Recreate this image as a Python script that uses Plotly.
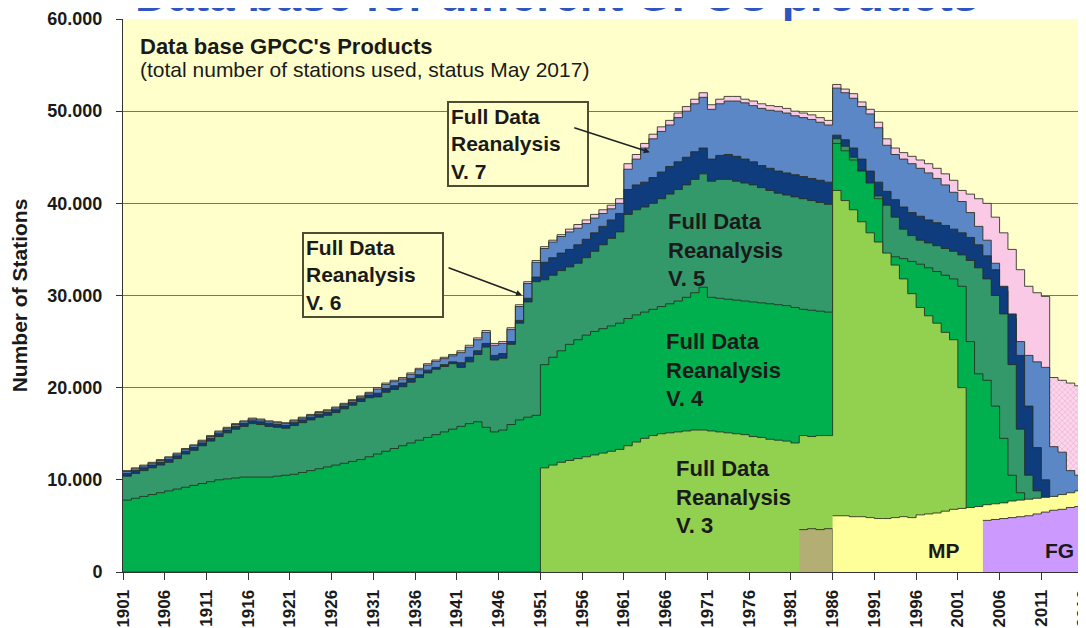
import plotly.graph_objects as go

# yearly station counts (top of each product layer)
YEARS = list(range(1901, 2018))

TOTAL_PINK = [
    11000, 11300, 11600, 11900, 12200, 12500, 12900, 13400, 13800, 14300,
    14800, 15300, 15700, 16100, 16400, 16700, 16600, 16400, 16300, 16200,
    16500, 16800, 17100, 17400, 17600, 17900, 18300, 18700, 19100, 19500,
    20000, 20500, 20800, 21100, 21600, 22100, 22600, 23000, 23300, 23600,
    24000, 24600, 25400, 26200, 24800, 25000, 26500, 29000, 31500, 33800,
    35300, 36000, 36600, 37200, 37700, 38200, 38800, 39300, 39800, 40500,
    44300, 45300, 46500, 47500, 48300, 49000, 49800, 50500, 51300, 52000,
    50700, 51300, 51600, 51600, 51300, 51100, 50800, 50600, 50500, 50300,
    50000, 49800, 49600, 49300, 49000, 52900, 52400, 51900, 51000, 50200,
    48800, 47000, 46000, 45500, 45100, 44700, 44300, 43800, 43200, 42500,
    41400, 41000, 40500, 40000, 38500, 36800, 35000, 32800, 31000, 30300,
    29900, 0, 0, 0, 0, 0, 0,
]

FD_V7 = [
    10900, 11200, 11500, 11800, 12100, 12400, 12800, 13300, 13700, 14200,
    14700, 15200, 15600, 16000, 16300, 16600, 16500, 16300, 16200, 16100,
    16400, 16700, 17000, 17300, 17500, 17800, 18200, 18600, 19000, 19400,
    19850, 20350, 20650, 20950, 21450, 21950, 22450, 22850, 23150, 23450,
    23800, 24400, 25200, 26000, 24600, 24800, 26300, 28800, 31300, 33600,
    35100, 35800, 36400, 36900, 37300, 37800, 38400, 38900, 39400, 40000,
    43700, 44800, 46000, 47000, 47800, 48500, 49300, 50000, 50800, 51500,
    50200, 50800, 51100, 51100, 50900, 50600, 50300, 50100, 50000, 49800,
    49500, 49300, 49100, 48800, 48500, 52500, 52000, 51400, 50500, 49700,
    48200, 46300, 45300, 44800, 44300, 43800, 43300, 42700, 42000, 41200,
    40200, 39000, 37500, 36000, 33500, 30500, 27500, 25000, 23500, 22800,
    22200, 13600, 13000, 11000, 10500, 0, 0,
]

FD_V6 = [
    10700, 11000, 11300, 11600, 11900, 12200, 12600, 13100, 13500, 14000,
    14500, 15000, 15400, 15800, 16100, 16400, 16300, 16100, 16000, 15900,
    16200, 16500, 16800, 17100, 17300, 17600, 18000, 18400, 18800, 19200,
    19400, 19900, 20200, 20500, 21000, 21400, 21900, 22200, 22500, 22800,
    22700, 23300, 24000, 24800, 23500, 23700, 25000, 27300, 29700, 32000,
    33600, 34100, 34600, 35000, 35500, 36100, 36800, 37500, 38200, 38900,
    41500, 42000, 42300, 42800, 43400, 44000, 44500, 45000, 45600, 46000,
    44800, 45200, 45300, 45100, 44800, 44500, 44100, 43800, 43500, 43300,
    43100, 42900, 42700, 42500, 42300, 47400, 46900, 46000, 44800, 43500,
    42300, 41300, 40400, 39600, 39000, 38600, 38200, 37900, 37600, 37200,
    36800, 36300, 35500, 34300, 32800, 31000, 28000, 23500, 18000, 13500,
    10000, 0, 0, 0, 0, 0, 0,
]

FD_V5 = [
    10400, 10700, 11000, 11300, 11600, 11900, 12300, 12800, 13200, 13700,
    14200, 14700, 15100, 15500, 15800, 16100, 16000, 15800, 15700, 15600,
    15900, 16200, 16500, 16800, 17000, 17300, 17700, 18100, 18500, 18900,
    19000, 19500, 19800, 20100, 20600, 21100, 21600, 22000, 22300, 22600,
    22200, 22800, 23600, 24400, 23000, 23200, 24700, 27000, 29300, 31500,
    31700, 32200, 32700, 33100, 33500, 34100, 34800, 35500, 36200, 36900,
    38800, 39300, 39600, 40000, 40500, 41000, 41500, 42000, 42600, 43200,
    42400, 42600, 42600, 42400, 42200, 42000, 41700, 41400, 41100, 40900,
    40700, 40500, 40300, 40100, 39900, 47000, 46200, 45000, 43500, 42000,
    40800, 39800, 38500, 37200, 36500, 36000, 35700, 35400, 35100, 34800,
    34400, 33800, 33000, 31800, 30000, 28000, 22500, 15500, 10500, 8800,
    0, 0, 0, 0, 0, 0, 0,
]

FD_V4 = [
    7800, 8000, 8200, 8400, 8600, 8800, 9000, 9200, 9400, 9600,
    9800, 10000, 10100, 10200, 10300, 10300, 10300, 10300, 10400, 10500,
    10600, 10800, 11000, 11200, 11400, 11600, 11800, 12000, 12200, 12500,
    12800, 13100, 13400, 13700, 14000, 14300, 14600, 14900, 15200, 15500,
    15800, 16100, 16300, 15700, 15200, 15400, 16000, 16500, 16800, 17000,
    22500, 23300, 24000, 24700, 25200, 25700, 26100, 26400, 26700, 27000,
    27500, 27900, 28200, 28500, 28800, 29100, 29400, 29800, 30300, 30900,
    29800, 29700, 29600, 29500, 29400, 29300, 29200, 29100, 29000, 28900,
    28700, 28500, 28400, 28300, 28200, 46500, 45700, 44700, 43500, 42200,
    40500, 34500, 34200, 34000, 33700, 33400, 33000, 32600, 32200, 31800,
    31000, 25000, 21500, 20800, 18000, 14500, 10500, 8600, 0, 0,
    0, 0, 0, 0, 0, 0, 0,
]

FD_V3 = [
    0, 0, 0, 0, 0, 0, 0, 0, 0, 0,
    0, 0, 0, 0, 0, 0, 0, 0, 0, 0,
    0, 0, 0, 0, 0, 0, 0, 0, 0, 0,
    0, 0, 0, 0, 0, 0, 0, 0, 0, 0,
    0, 0, 0, 0, 0, 0, 0, 0, 0, 0,
    11300, 11600, 11900, 12100, 12300, 12500, 12700, 12900, 13100, 13300,
    13700, 14100, 14500, 14800, 15000, 15100, 15200, 15300, 15400, 15400,
    15300, 15200, 15100, 15000, 14900, 14700, 14600, 14400, 14300, 14200,
    14000, 14800, 14700, 14800, 14800, 41400, 40300, 39300, 38000, 36800,
    35800, 34600, 33300, 31800, 30200, 28700, 27800, 27000, 26000, 25200,
    20000, 0, 0, 0, 0, 0, 0, 0, 0, 0,
    0, 0, 0, 0, 0, 0, 0,
]

HATCH_YEARS = [2012, 2013, 2014, 2015, 2016, 2017]
HATCH_PINK = [21100, 20800, 20500, 20200, 19900, 19800]

TAN_YEARS = [1982, 1983, 1984, 1985, 1986]
TAN = [4600, 4700, 4600, 4700, 0]

MP_YEARS = list(range(1986, 2018))
MP = [
    6100, 6100, 6000, 6000, 5900, 5800, 5800, 5900, 6000, 5900,
    6200, 6300, 6400, 6600, 6800, 6900, 7000, 7100, 7300, 7400,
    7500, 7700, 7800, 7900, 8000, 8100, 8200, 8400, 8600, 8800,
    9000, 9100,
]

FG_YEARS = list(range(2004, 2018))
FG = [5600, 5700, 5800, 5900, 6000, 6100, 6300, 6500, 6700, 6800, 7000, 7100, 7300, 7300]

X_TICKS = list(range(1901, 2017, 5))
Y_TICKS = [0, 10000, 20000, 30000, 40000, 50000, 60000]

EDGE = "rgba(40,45,30,0.85)"
FONT = "Liberation Sans, Arial, sans-serif"

# painted from the tallest layer down, so each smaller one covers the one below
layers = [
    ("total", YEARS, TOTAL_PINK, "#F9C9E5"),
    ("V7", YEARS, FD_V7, "#5B87C6"),
    ("V6", YEARS, FD_V6, "#0E3C7C"),
    ("V5", YEARS, FD_V5, "#33996B"),
    ("V4", YEARS, FD_V4, "#00B04F"),
    ("V3", YEARS, FD_V3, "#92D050"),
    ("tan", TAN_YEARS, TAN, "#B3AE74"),
    ("MP", MP_YEARS, MP, "#FFFF99"),
    ("FG", FG_YEARS, FG, "#CC99FF"),
]

fig = go.Figure()

for name, xs, ys, color in layers:
    fig.add_trace(go.Scatter(
        x=xs, y=ys, name=name, mode="lines",
        line=dict(color=EDGE, width=1, shape="hv"),
        fill="tozeroy", fillcolor=color,
        hoverinfo="skip", showlegend=False,
    ))
    if name == "total":
        # hatched tail of the pink layer
        fig.add_trace(go.Scatter(
            x=HATCH_YEARS, y=HATCH_PINK, mode="lines",
            line=dict(color=EDGE, width=1, shape="hv"),
            fill="tozeroy", fillcolor="#FBD3EA",
            fillpattern=dict(shape="x", fgcolor="#E29AC3", bgcolor="#FBD6EB", size=4, solidity=0.2),
            hoverinfo="skip", showlegend=False,
        ))

# the page body adds an 8px offset, so the figure is 8px smaller and the margins shifted
fig.update_layout(
    template="none",
    width=1078, height=620,
    margin=dict(l=115, r=0, t=11, b=56),
    paper_bgcolor="white",
    plot_bgcolor="#FFFFCC",
    separators=",.",
    font=dict(family=FONT, color="#1a1a1a"),
    showlegend=False,
)

fig.update_xaxes(
    range=[1901, 2016.35],
    tickmode="array", tickvals=X_TICKS, ticktext=[str(t) for t in X_TICKS],
    tickangle=-90, ticks="outside", ticklen=7, tickcolor="#333333",
    tickfont=dict(size=17, weight="bold"), ticklabelstandoff=3,
    ticklabeloverflow="allow",
    showline=True, linecolor="#333333", linewidth=1,
    showgrid=False, zeroline=False, automargin=False,
)
fig.update_yaxes(
    range=[0, 60000], tickmode="array", tickvals=Y_TICKS, tickformat=",d",
    ticks="outside", ticklen=6, tickcolor="#333333",
    tickfont=dict(size=18, weight="bold"), ticklabelstandoff=10,
    showline=True, linecolor="#333333", linewidth=1,
    showgrid=True, gridcolor="#7A7A52", gridwidth=1,
    zeroline=False, automargin=False,
    title=dict(text="<b>Number of Stations</b>", font=dict(size=21), standoff=14),
)

# cut-off headline above the chart (only the lower edge of the letters shows)
fig.add_annotation(xref="paper", yref="paper", x=0.45, y=0.9928, xanchor="center", yanchor="bottom",
                   text="<b>Data base for different GPCC products</b>", showarrow=False,
                   font=dict(size=46, color="#2F55C0"))

fig.add_annotation(x=1902.8, y=57050, xanchor="left", yanchor="middle", showarrow=False,
                   text="<b>Data base GPCC's Products</b>", font=dict(size=22))
fig.add_annotation(x=1902.8, y=54550, xanchor="left", yanchor="middle", showarrow=False,
                   text="(total number of stations used, status May 2017)", font=dict(size=21))

label = "<b>Full Data<br>Reanalysis<br>V. %s</b>"
box = dict(showarrow=False, align="left", xanchor="left", yanchor="top", width=134,
           bgcolor="#FFFFCC", bordercolor="#4D4D33", borderwidth=2, borderpad=2,
           font=dict(size=21))
fig.add_annotation(x=1939.8, y=51080, text=label % "7", **box)
fig.add_annotation(x=1922.4, y=36880, text=label % "6", **box)

arrow = dict(text="", showarrow=True, arrowhead=2, arrowsize=0.8, arrowwidth=1.5, arrowcolor="#222222")
fig.add_annotation(x=1964.1, y=45550, ax=-77, ay=-25, **arrow)
fig.add_annotation(x=1948.8, y=30040, ax=-75, ay=-28, **arrow)

inside = dict(showarrow=False, align="left", xanchor="left", yanchor="middle",
              font=dict(size=22, color="#1a1a1a"))
fig.add_annotation(x=1966.0, y=34900, text=label % "5", **inside)
fig.add_annotation(x=1965.8, y=21900, text=label % "4", **inside)
fig.add_annotation(x=1967.0, y=8130, text=label % "3", **inside)

fig.add_annotation(x=1999.3, y=2280, text="<b>MP</b>", showarrow=False, font=dict(size=21))
fig.add_annotation(x=2013.2, y=2280, text="<b>FG</b>", showarrow=False, font=dict(size=21))

fig.write_html("out.html")
